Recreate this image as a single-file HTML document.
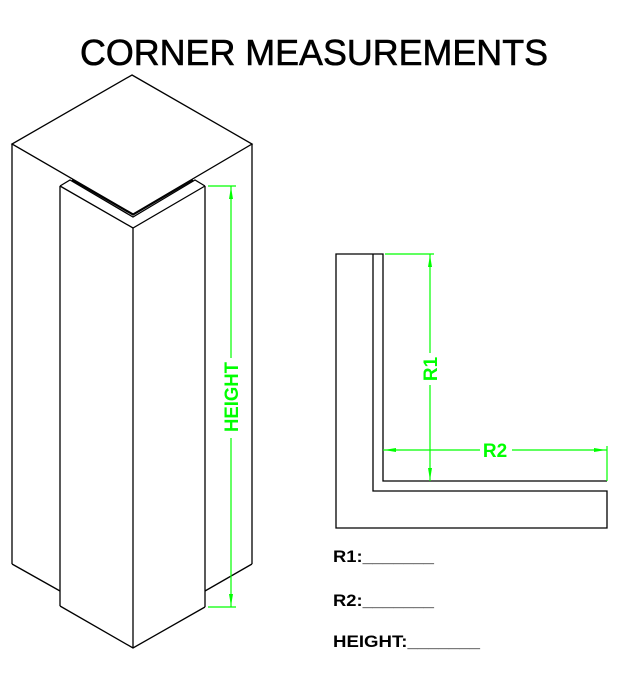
<!DOCTYPE html>
<html><head><meta charset="utf-8"><style>
html,body{margin:0;padding:0;background:#fff;}
svg{display:block;}
</style></head><body>
<svg width="625" height="686" viewBox="0 0 625 686" xmlns="http://www.w3.org/2000/svg">
<text x="314" y="65" text-anchor="middle" font-family="Liberation Sans, sans-serif" font-size="36" fill="#000" stroke="#000" stroke-width="0.6" textLength="468" lengthAdjust="spacingAndGlyphs">CORNER MEASUREMENTS</text>
<g stroke="#000" stroke-width="1.3" fill="none">
<polygon points="132,75 252,144 133,214 12,144"/>
<line x1="12" y1="144" x2="12" y2="564"/>
<line x1="252" y1="144" x2="252" y2="564"/>
<line x1="12" y1="564" x2="60" y2="591"/>
<line x1="252" y1="564" x2="205" y2="591"/>
<line x1="60" y1="186" x2="60" y2="606"/>
<line x1="133" y1="228" x2="133" y2="648"/>
<line x1="205" y1="186" x2="205" y2="607"/>
<polyline points="60,186 133,228 205,186"/>
<polyline points="60,186 70,180 133,217 195,180 205,186"/>
<polyline points="72,180 133,215 193,180"/>
<polyline points="60,606 133,648 205,607"/>
<polyline points="373,254 336,254 336,528 607,528 607,491 373,491 373,254 383,254 383,481 607,481"/>
</g>
<g stroke="#00ff00" stroke-width="1.2" fill="#00ff00">
<line x1="208" y1="186" x2="236" y2="186"/>
<line x1="208" y1="607" x2="236" y2="607"/>
<line x1="231" y1="186" x2="231" y2="607"/>
<polygon points="231,187 229,199 233,199" stroke="none"/>
<polygon points="231,606 229,594 233,594" stroke="none"/>
<line x1="385" y1="254" x2="434" y2="254"/>
<line x1="430" y1="254" x2="430" y2="481"/>
<polygon points="430,255 428,267 432,267" stroke="none"/>
<polygon points="430,480 428,468 432,468" stroke="none"/>
<line x1="383" y1="450" x2="607" y2="450"/>
<line x1="607" y1="446" x2="607" y2="481"/>
<polygon points="384,450 396,448 396,452" stroke="none"/>
<polygon points="606,450 594,448 594,452" stroke="none"/>
</g>
<g font-family="Liberation Sans, sans-serif" font-weight="bold" fill="#00ff00" font-size="19">
<rect x="221" y="358" width="20" height="80" fill="#fff"/>
<text transform="translate(238,397) rotate(-90)" text-anchor="middle" textLength="70" lengthAdjust="spacingAndGlyphs">HEIGHT</text>
<rect x="420" y="353" width="20" height="32" fill="#fff"/>
<text transform="translate(437,369) rotate(-90)" text-anchor="middle">R1</text>
<rect x="480" y="441" width="32" height="18" fill="#fff"/>
<text x="495" y="457" text-anchor="middle">R2</text>
</g>
<g font-family="Liberation Sans, sans-serif" font-weight="bold" fill="#000" font-size="17">
<text x="333" y="562" textLength="101" lengthAdjust="spacingAndGlyphs">R1:_______</text>
<text x="333" y="606" textLength="101" lengthAdjust="spacingAndGlyphs">R2:_______</text>
<text x="333" y="647" textLength="147" lengthAdjust="spacingAndGlyphs">HEIGHT:_______</text>
</g>
</svg>
</body></html>
